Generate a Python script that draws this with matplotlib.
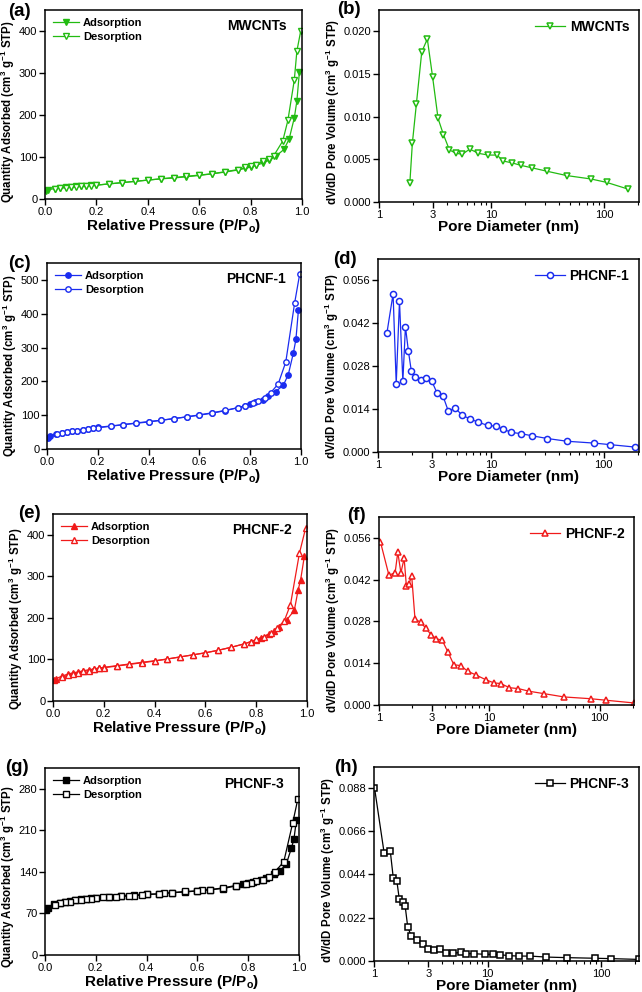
import numpy as np
import matplotlib
matplotlib.use('Agg')
import matplotlib.pyplot as plt
from matplotlib.ticker import FixedLocator, LogLocator, NullFormatter, FormatStrFormatter

plt.rcParams['font.family'] = ['Liberation Sans', 'DejaVu Sans']
plt.rcParams['mathtext.default'] = 'regular'

# ---------- (a)/(b) MWCNTs ----------
a_ads_x = [0.005, 0.01, 0.04, 0.06, 0.08, 0.10, 0.12, 0.14, 0.16, 0.18, 0.20, 0.25, 0.30, 0.35,
           0.40, 0.45, 0.50, 0.55, 0.60, 0.65, 0.70, 0.75, 0.78, 0.80, 0.82, 0.85, 0.87, 0.90,
           0.93, 0.95, 0.97, 0.98, 0.99]
a_ads_y = [20, 22, 25, 26, 28, 29, 30, 31, 32, 33, 33, 36, 39, 42, 45, 48, 50, 53, 56, 60, 64,
           69, 73, 76, 80, 86, 92, 103, 118, 143, 193, 233, 303]
a_des_x = [0.995, 0.98, 0.97, 0.945, 0.925, 0.89, 0.87, 0.85, 0.82, 0.80, 0.78, 0.75, 0.70, 0.65,
           0.60, 0.55, 0.50, 0.45, 0.40, 0.35, 0.30, 0.25, 0.20, 0.18, 0.16, 0.14, 0.12, 0.10,
           0.08, 0.06, 0.04]
a_des_y = [400, 352, 283, 187, 138, 103, 95, 90, 82, 78, 75, 70, 65, 60, 57, 54, 51, 48, 45, 42,
           39, 36, 33, 32, 31, 30, 29, 28, 27, 26, 25]

b_d = [1.88, 1.98, 2.15, 2.40, 2.69, 3.0, 3.35, 3.74, 4.23, 4.85, 5.52, 6.41, 7.66, 9.4, 11.2,
       12.7, 15.1, 18.2, 23.0, 31.3, 46.5, 76.6, 105.6, 165]
b_v = [0.0022, 0.0069, 0.0115, 0.0176, 0.0191, 0.0146, 0.0098, 0.0079, 0.0061, 0.0057, 0.0056,
       0.0062, 0.0057, 0.0055, 0.0055, 0.0048, 0.0046, 0.0043, 0.0040, 0.0036, 0.0031, 0.0027,
       0.0023, 0.0015]

# ---------- (c)/(d) PHCNF-1 ----------
c_ads_x = [0.005, 0.01, 0.035, 0.06, 0.08, 0.10, 0.12, 0.14, 0.16, 0.18, 0.20, 0.25, 0.30, 0.35,
           0.40, 0.45, 0.50, 0.55, 0.60, 0.65, 0.70, 0.75, 0.78, 0.80, 0.82, 0.85, 0.87, 0.90,
           0.93, 0.95, 0.97, 0.98, 0.99]
c_ads_y = [33, 37, 44, 46, 49, 52, 54, 57, 60, 62, 64, 68, 72, 77, 81, 85, 90, 95, 100, 106, 113,
           122, 128, 134, 138, 146, 156, 170, 188, 220, 284, 324, 412]
c_des_x = [0.995, 0.975, 0.94, 0.91, 0.88, 0.86, 0.83, 0.81, 0.78, 0.75, 0.70, 0.65, 0.60, 0.55,
           0.50, 0.45, 0.40, 0.35, 0.30, 0.25, 0.20, 0.18, 0.16, 0.14, 0.12, 0.10, 0.08, 0.06, 0.04]
c_des_y = [518, 432, 257, 192, 166, 152, 143, 136, 128, 122, 114, 107, 101, 95, 90, 85, 80, 76,
           72, 67, 63, 62, 60, 57, 54, 52, 49, 46, 43]

d_d = [1.20, 1.36, 1.45, 1.55, 1.66, 1.75, 1.86, 1.97, 2.11, 2.38, 2.67, 2.99, 3.33, 3.77, 4.20,
       4.84, 5.54, 6.47, 7.61, 9.34, 11.2, 12.7, 15.2, 18.4, 23.1, 31.6, 47.5, 82.6, 114, 190]
d_v = [0.0389, 0.0516, 0.0223, 0.0492, 0.0231, 0.0409, 0.0329, 0.0266, 0.0245, 0.0236, 0.0243,
       0.0232, 0.0193, 0.0182, 0.0133, 0.0144, 0.0120, 0.0109, 0.0098, 0.0087, 0.0084, 0.0075,
       0.0064, 0.0060, 0.0053, 0.0044, 0.0035, 0.0029, 0.0024, 0.0016]

# ---------- (e)/(f) PHCNF-2 ----------
e_ads_x = [0.005, 0.01, 0.035, 0.06, 0.08, 0.10, 0.12, 0.14, 0.16, 0.18, 0.20, 0.25, 0.30, 0.35,
           0.40, 0.45, 0.50, 0.55, 0.60, 0.65, 0.70, 0.75, 0.78, 0.80, 0.82, 0.85, 0.87, 0.89,
           0.92, 0.95, 0.965, 0.975, 0.99]
e_ads_y = [50, 53, 60, 65, 68, 70, 73, 75, 77, 79, 81, 85, 89, 93, 97, 101, 106, 111, 116, 122,
           129, 137, 143, 147, 152, 161, 168, 178, 195, 218, 267, 292, 350]
e_des_x = [0.995, 0.97, 0.935, 0.91, 0.88, 0.86, 0.83, 0.80, 0.78, 0.75, 0.70, 0.65, 0.60, 0.55,
           0.50, 0.45, 0.40, 0.35, 0.30, 0.25, 0.20, 0.18, 0.16, 0.14, 0.12, 0.10, 0.08, 0.06, 0.035]
e_des_y = [417, 355, 232, 192, 175, 164, 155, 148, 143, 137, 129, 122, 116, 111, 106, 101, 96, 92,
           88, 84, 80, 79, 77, 73, 71, 67, 65, 62, 58]

f_d = [1.03, 1.23, 1.40, 1.48, 1.58, 1.69, 1.77, 1.87, 1.98, 2.12, 2.39, 2.66, 2.99, 3.32, 3.74,
       4.21, 4.77, 5.49, 6.39, 7.52, 9.27, 11.0, 12.7, 15.2, 18.3, 23.0, 31.4, 47.5, 83.3, 114, 203]
f_v = [0.0547, 0.0435, 0.0443, 0.0512, 0.0443, 0.0492, 0.0400, 0.0407, 0.0431, 0.0288, 0.0277,
       0.0257, 0.0234, 0.0222, 0.0217, 0.0178, 0.0135, 0.0132, 0.0113, 0.0101, 0.0085, 0.0074,
       0.0072, 0.0058, 0.0055, 0.0046, 0.0038, 0.0027, 0.0021, 0.0016, 0.0007]

# ---------- (g)/(h) PHCNF-3 ----------
g_ads_x = [0.005, 0.01, 0.035, 0.06, 0.08, 0.10, 0.12, 0.14, 0.16, 0.18, 0.20, 0.25, 0.30, 0.35,
           0.40, 0.45, 0.50, 0.55, 0.60, 0.65, 0.70, 0.75, 0.78, 0.80, 0.82, 0.85, 0.87, 0.90,
           0.925, 0.95, 0.97, 0.98, 0.99]
g_ads_y = [76, 80, 86, 88, 90, 91, 93, 94, 95, 96, 96, 98, 100, 101, 102, 103, 105, 106, 108, 110,
           112, 116, 119, 121, 123, 127, 130, 136, 142, 153, 180, 195, 228]
g_des_x = [0.995, 0.975, 0.94, 0.905, 0.88, 0.86, 0.83, 0.81, 0.79, 0.75, 0.70, 0.65, 0.62, 0.60,
           0.55, 0.50, 0.47, 0.45, 0.40, 0.38, 0.35, 0.33, 0.30, 0.28, 0.25, 0.23, 0.20, 0.18, 0.16,
           0.14, 0.12, 0.10, 0.08, 0.06, 0.04]
g_des_y = [262, 222, 157, 140, 132, 127, 124, 122, 120, 117, 113, 110, 109, 108, 107, 105, 104,
           103, 102, 101, 100, 99, 99, 98, 98, 97, 96, 95, 94, 93, 92, 90, 89, 88, 85]

h_d = [1.01, 1.23, 1.39, 1.48, 1.59, 1.67, 1.79, 1.88, 1.98, 2.13, 2.40, 2.69, 3.00, 3.39, 3.84,
       4.28, 4.98, 5.78, 6.45, 7.60, 9.41, 11.2, 12.9, 15.4, 18.9, 23.7, 32.7, 50.1, 87.7, 123, 216]
h_v = [0.0880, 0.0546, 0.0559, 0.0419, 0.0405, 0.0314, 0.0301, 0.0279, 0.0174, 0.0125, 0.0105,
       0.0084, 0.0059, 0.0054, 0.0059, 0.0039, 0.0039, 0.0044, 0.0037, 0.0037, 0.0034, 0.0034,
       0.0032, 0.0027, 0.0025, 0.0025, 0.0020, 0.0017, 0.0014, 0.0012, 0.0008]

green = '#22bb11'
blue = '#1a2cf0'
red = '#f01a1a'
black = '#000000'

W, H = 642, 992
fig = plt.figure(figsize=(W / 100, H / 100), dpi=100)


def axes_px(left, right, top, bottom):
    return fig.add_axes([left / W, 1 - bottom / H, (right - left) / W, (bottom - top) / H])


def tag_px(x, y, tag):
    # panel letter, left edge / vertical centre given in pixels from top-left
    fig.text(x / W, 1 - y / H, tag, ha='left', va='center', fontsize=13.5, fontweight='bold')


def style(ax):
    for s in ax.spines.values():
        s.set_linewidth(1.1)
    ax.tick_params(which='major', direction='out', length=4, width=1.0, labelsize=8,
                   top=False, right=False, pad=1.5)
    ax.tick_params(which='minor', direction='out', length=2.2, width=0.8, top=False, right=False)


def iso_panel(ax, ads_x, ads_y, des_x, des_y, color, mk, name, ymax, yticks, ylab_y):
    ax.plot(ads_x, ads_y, '-', color=color, lw=0.9, marker=mk, ms=3.9, mfc=color, mec=color,
            mew=1.0, label='Adsorption')
    ax.plot(des_x, des_y, '-', color=color, lw=0.9, marker=mk, ms=3.9, mfc='white', mec=color,
            mew=1.0, label='Desorption')
    ax.set_xlim(0, 1.0)
    ax.set_ylim(0, ymax)
    ax.set_xticks([0.0, 0.2, 0.4, 0.6, 0.8, 1.0])
    ax.xaxis.set_major_formatter(FormatStrFormatter('%.1f'))
    ax.set_yticks(yticks)
    style(ax)
    ax.set_xlabel('Relative Pressure (P/P$_o$)', fontsize=11, fontweight='bold', labelpad=0)
    ax.set_ylabel('Quantity Adsorbed (cm$^3$ g$^{-1}$ STP)', fontsize=8.3, fontweight='bold',
                  labelpad=1)
    ax.yaxis.label.set_y(ylab_y)
    ax.legend(loc='upper left', frameon=False, handlelength=2.4, numpoints=1,
              borderaxespad=0.3, handletextpad=0.3, labelspacing=0.35,
              prop={'weight': 'bold', 'size': 8})
    ax.text(0.94, 0.95, name, transform=ax.transAxes, ha='right', va='top', fontsize=10,
            fontweight='bold')


def psd_panel(ax, d, v, color, mk, ms, name, xmax, ymax, yticks, ylab_y):
    ax.plot(d, v, '-', color=color, lw=0.9, marker=mk, ms=ms, mfc='white', mec=color, mew=1.1,
            label=name)
    ax.set_xscale('log')
    ax.set_xlim(1, xmax)
    ax.set_ylim(0, ymax)
    ax.xaxis.set_major_locator(FixedLocator([1, 3, 10, 100]))
    ax.xaxis.set_major_formatter(FormatStrFormatter('%g'))
    ax.xaxis.set_minor_locator(LogLocator(base=10, subs=np.arange(2, 10)))
    ax.xaxis.set_minor_formatter(NullFormatter())
    ax.set_yticks(yticks)
    ax.yaxis.set_major_formatter(FormatStrFormatter('%.3f'))
    style(ax)
    ax.set_xlabel('Pore Diameter (nm)', fontsize=11, fontweight='bold', labelpad=0)
    ax.set_ylabel('dV/dD Pore Volume (cm$^3$ g$^{-1}$ STP)', fontsize=8.3, fontweight='bold',
                  labelpad=1)
    ax.yaxis.label.set_y(ylab_y)
    ax.legend(loc='upper right', frameon=False, handlelength=2.2, numpoints=1,
              borderaxespad=0.3, handletextpad=0.3, prop={'weight': 'bold', 'size': 10})


ax_a = axes_px(45, 302, 10, 199)
iso_panel(ax_a, a_ads_x, a_ads_y, a_des_x, a_des_y, green, 'v', 'MWCNTs', 450,
          [0, 100, 200, 300, 400], 0.46)
ax_b = axes_px(379, 639, 10, 202)
psd_panel(ax_b, b_d, b_v, green, 'v', 4.6, 'MWCNTs', 205, 0.0225,
          [0.0, 0.005, 0.010, 0.015, 0.020], 0.47)

ax_c = axes_px(47, 301, 263, 449)
iso_panel(ax_c, c_ads_x, c_ads_y, c_des_x, c_des_y, blue, 'o', 'PHCNF-1', 550,
          [0, 100, 200, 300, 400, 500], 0.45)
ax_d = axes_px(378, 639, 259, 452)
psd_panel(ax_d, d_d, d_v, blue, 'o', 4.4, 'PHCNF-1', 205, 0.063,
          [0.0, 0.014, 0.028, 0.042, 0.056], 0.445)

ax_e = axes_px(53, 307, 514, 701)
iso_panel(ax_e, e_ads_x, e_ads_y, e_des_x, e_des_y, red, '^', 'PHCNF-2', 450,
          [0, 100, 200, 300, 400], 0.44)
ax_f = axes_px(379, 634, 517, 705)
psd_panel(ax_f, f_d, f_v, red, '^', 4.6, 'PHCNF-2', 205, 0.063,
          [0.0, 0.014, 0.028, 0.042, 0.056], 0.45)

ax_g = axes_px(45, 299, 768, 955)
iso_panel(ax_g, g_ads_x, g_ads_y, g_des_x, g_des_y, black, 's', 'PHCNF-3', 315,
          [0, 70, 140, 210, 280], 0.42)
ax_h = axes_px(374, 639, 767, 961)
psd_panel(ax_h, h_d, h_v, black, 's', 4.0, 'PHCNF-3', 215, 0.0985,
          [0.0, 0.022, 0.044, 0.066, 0.088], 0.47)

tag_px(8, 11, '(a)')
tag_px(337, 10, '(b)')
tag_px(8, 263, '(c)')
tag_px(333, 260, '(d)')
tag_px(18, 514, '(e)')
tag_px(347, 516, '(f)')
tag_px(5, 767, '(g)')
tag_px(334, 767, '(h)')

fig.savefig('out.png', dpi=100)
